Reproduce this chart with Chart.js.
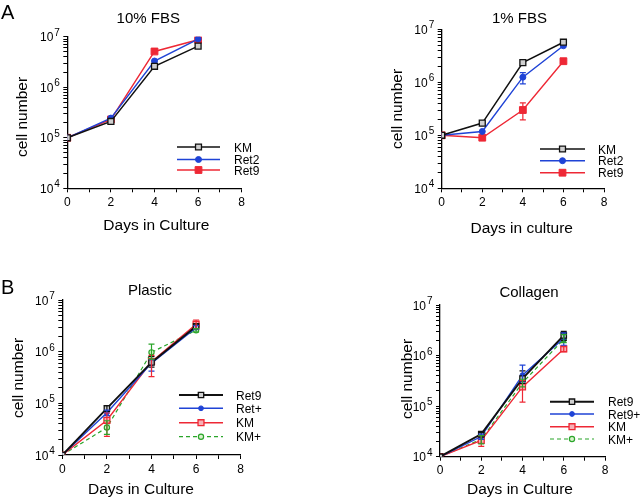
<!DOCTYPE html>
<html>
<head>
<meta charset="utf-8">
<script src="https://cdn.jsdelivr.net/npm/chart.js@4.4.1/dist/chart.umd.min.js"></script>
<style>
  html, body { margin: 0; padding: 0; background: #fff; }
  #wrap { position: relative; width: 640px; height: 499px; overflow: hidden; background: #fff; }
  #wrap canvas { position: absolute; left: 0; top: 0; }
</style>
</head>
<body>
<div id="wrap">
  <canvas id="chart-a10" width="640" height="499"></canvas>
  <canvas id="chart-a1" width="640" height="499"></canvas>
  <canvas id="chart-bp" width="640" height="499"></canvas>
  <canvas id="chart-bc" width="640" height="499"></canvas>
</div>
<script>
// ── Axes ──────────────────────────────────────────────────────────────────────
const DAYS      = [0, 2, 4, 6];
const X_TICKS   = [0, 1, 2, 3, 4, 5, 6, 7, 8];
const X_LABELS  = ['0', '', '2', '', '4', '', '6', '', '8'];
const Y_DECADES = [1e4, 1e5, 1e6, 1e7];
const Y_EXPS    = ['4', '5', '6', '7'];
const Y_MINOR   = [2e4, 3e4, 4e4, 5e4, 6e4, 7e4, 8e4, 9e4,
                   2e5, 3e5, 4e5, 5e5, 6e5, 7e5, 8e5, 9e5,
                   2e6, 3e6, 4e6, 5e6, 6e6, 7e6, 8e6, 9e6];

// ── A : 10% FBS ───────────────────────────────────────────────────────────────
const A10_KM   = [1e5, 2.1e5, 2.6e6, 6.5e6];
const A10_RET2 = [1e5, 2.45e5, 3.3e6, 9.0e6];
const A10_RET9 = [1e5, 2.3e5, 5.1e6, 8.7e6];

// ── A : 1% FBS ────────────────────────────────────────────────────────────────
const A1_KM       = [1e5, 1.7e5, 2.35e6, 5.7e6];
const A1_RET2     = [1e5, 1.18e5, 1.25e6, 4.9e6];
const A1_RET2_ERR = [null, null, [0.93e6, 1.52e6], null];
const A1_RET9     = [1e5, 0.9e5, 3.0e5, 2.5e6];
const A1_RET9_ERR = [null, null, [1.95e5, 4.1e5], null];

// ── B : Plastic ───────────────────────────────────────────────────────────────
const BP_RET9     = [1e4, 8.0e4, 6.2e5, 3.1e6];
const BP_RET9_ERR = [null, [7.0e4, 9.0e4], [5.0e5, 8.0e5], [2.8e6, 3.4e6]];
const BP_RETP     = [1e4, 6.6e4, 6.0e5, 2.9e6];
const BP_RETP_ERR = [null, [5.8e4, 7.4e4], [4.2e5, 7.0e5], [2.7e6, 3.2e6]];
const BP_KM       = [1e4, 4.7e4, 6.4e5, 3.4e6];
const BP_KM_ERR   = [null, [2.3e4, 6.5e4], [3.3e5, 8.5e5], [2.8e6, 4.1e6]];
const BP_KMP      = [1e4, 3.4e4, 9.7e5, 2.6e6];
const BP_KMP_ERR  = [null, [2.5e4, 4.6e4], [7.2e5, 1.4e6], [2.4e6, 2.8e6]];

// ── B : Collagen ──────────────────────────────────────────────────────────────
const BC_RET9      = [1e4, 2.8e4, 3.5e5, 2.5e6];
const BC_RET9_ERR  = [null, [2.5e4, 3.0e4], [2.8e5, 5.0e5], [2.0e6, 3.0e6]];
const BC_RET9P     = [1e4, 2.5e4, 4.1e5, 2.2e6];
const BC_RET9P_ERR = [null, [2.2e4, 2.8e4], [3.0e5, 6.5e5], [1.6e6, 2.8e6]];
const BC_KM        = [1e4, 2.1e4, 2.4e5, 1.35e6];
const BC_KM_ERR    = [null, [1.6e4, 2.6e4], [1.2e5, 3.2e5], [1.2e6, 1.5e6]];
const BC_KMP       = [1e4, 2.2e4, 2.9e5, 2.1e6];
const BC_KMP_ERR   = [null, [1.8e4, 2.6e4], [2.4e5, 3.4e5], [1.8e6, 2.6e6]];

// ── Styles ────────────────────────────────────────────────────────────────────
const FONT = "'Liberation Sans', Arial, Helvetica, sans-serif";
const W = 640, H = 499;
const Y_AXIS_W = 6;    // largeur réservée à l'axe y (ticks seuls)
const X_AXIS_H = 30;   // hauteur réservée à l'axe x (ticks + chiffres)

const STYLE = {
  blackOpen:  { color: '#111',    width: 1.5, point: 'rect',   radius: 4.2, fill: '#cfcfcf', pb: 1.3 },
  blackOpenB: { color: '#111',    width: 1.9, point: 'rect',   radius: 3.8, fill: '#cfcfcf', pb: 1.3 },
  blueDot:    { color: '#1f43d6', width: 1.4, point: 'circle', radius: 3,   fill: '#1f43d6', pb: 1 },
  blueDotB:   { color: '#1f43d6', width: 1.4, point: 'circle', radius: 2.4, fill: '#1f43d6', pb: 1 },
  redSquare:  { color: '#ee2835', width: 1.4, point: 'rect',   radius: 4.8, fill: '#ee2835', pb: 1 },
  redOpen:    { color: '#ee2835', width: 1.4, point: 'rect',   radius: 4.2, fill: '#f7b0b5', pb: 1.3 },
  greenOpen:  { color: '#2aa52a', width: 1.2, point: 'circle', radius: 2.6, fill: '#d9f2cc', pb: 1.2, dash: [4, 3] },
};

function seriesStyle(st) {
  return {
    borderColor: st.color, borderWidth: st.width, borderDash: st.dash || [],
    pointStyle: st.point, pointRadius: st.radius, pointBackgroundColor: st.fill,
    pointBorderColor: st.color, pointBorderWidth: st.pb, fill: false, tension: 0,
  };
}

const txt = (size) => `${size}px ${FONT}`;

// ── Barres d'erreur ───────────────────────────────────────────────────────────
const errorBars = {
  id: 'errorBars',
  afterDatasetsDraw(chart) {
    const { ctx, scales: { x, y } } = chart;
    chart.data.datasets.forEach(ds => {
      if (!ds.err) return;
      ctx.save();
      ctx.strokeStyle = ds.borderColor;
      ctx.lineWidth = 1.2;
      ctx.setLineDash([]);
      ds.err.forEach((e, i) => {
        if (!e) return;
        const px = x.getPixelForValue(DAYS[i]);
        const lo = y.getPixelForValue(e[0]);
        const hi = y.getPixelForValue(e[1]);
        ctx.beginPath();
        ctx.moveTo(px, lo); ctx.lineTo(px, hi);
        ctx.moveTo(px - 3, lo); ctx.lineTo(px + 3, lo);
        ctx.moveTo(px - 3, hi); ctx.lineTo(px + 3, hi);
        ctx.stroke();
      });
      ctx.restore();
    });
  },
};

// ── Textes, ticks 10^n et légende interne ─────────────────────────────────────
function decor(p) {
  return {
    id: 'decor',
    afterDraw(chart) {
      const { ctx, scales: { y } } = chart;
      ctx.save();
      ctx.fillStyle = '#000';
      ctx.textBaseline = 'alphabetic';

      // titre + lettre du panneau
      ctx.font = txt(15);
      ctx.textAlign = 'center';
      ctx.fillText(p.title.text, p.title.x, p.title.y);
      if (p.letter) {
        ctx.font = txt(20);
        ctx.textAlign = 'left';
        ctx.fillText(p.letter.text, p.letter.x, p.letter.y);
      }

      // titres d'axes
      ctx.font = txt(15.5);
      ctx.textAlign = 'center';
      ctx.fillText(p.xTitle.text, p.xTitle.x, p.xTitle.y);
      ctx.save();
      ctx.translate(p.yTitle.x, p.yTitle.y);
      ctx.rotate(-Math.PI / 2);
      ctx.fillText(p.yTitle.text, 0, 0);
      ctx.restore();

      // ticks log : 10 + exposant
      Y_DECADES.forEach((v, i) => {
        const py = y.getPixelForValue(v);
        ctx.font = txt(12);
        ctx.textAlign = 'right';
        ctx.fillText('10', p.box.L - 14, py + 4.5);
        ctx.font = txt(10);
        ctx.textAlign = 'left';
        ctx.fillText(Y_EXPS[i], p.box.L - 13, py - 1);
      });

      // légende
      const lg = p.legend;
      chart.data.datasets.forEach((ds, i) => {
        const yy = lg.rows[i];
        ctx.save();
        ctx.strokeStyle = ds.borderColor;
        ctx.lineWidth = ds.borderWidth;
        ctx.setLineDash(ds.borderDash || []);
        ctx.beginPath(); ctx.moveTo(lg.x1, yy); ctx.lineTo(lg.x2, yy); ctx.stroke();
        ctx.setLineDash([]);
        ctx.fillStyle = ds.pointBackgroundColor;
        ctx.lineWidth = ds.pointBorderWidth;
        Chart.helpers.drawPoint(ctx, {
          pointStyle: ds.pointStyle, radius: ds.pointRadius, rotation: 0, borderWidth: ds.pointBorderWidth,
        }, (lg.x1 + lg.x2) / 2, yy);
        ctx.fillStyle = '#000';
        ctx.font = txt(12);
        ctx.textAlign = 'left';
        ctx.fillText(ds.label, lg.tx, yy + 4.5);
        ctx.restore();
      });
      ctx.restore();
    },
  };
}

// ── Construction d'un panneau ─────────────────────────────────────────────────
function makePanel(p) {
  const axisCommon = {
    grid: { display: true, drawOnChartArea: false, drawTicks: true, tickLength: 4, color: '#000', lineWidth: 1 },
    border: { display: true, color: '#000', width: 1.3 },
  };
  return new Chart(document.getElementById(p.id), {
    type: 'line',
    data: {
      datasets: p.series.map(s => ({
        label: s.label,
        data: DAYS.map((d, i) => ({ x: d, y: s.values[i] })),
        err: s.err || null,
        ...seriesStyle(s.style),
      })),
    },
    options: {
      responsive: false,
      animation: false,
      events: [],
      layout: {
        padding: { left: p.box.L - Y_AXIS_W, top: p.box.T, right: W - p.box.R, bottom: H - p.box.B - X_AXIS_H },
      },
      scales: {
        x: {
          type: 'linear', min: 0, max: 8,
          afterBuildTicks: s => { s.ticks = X_TICKS.map(v => ({ value: v })); },
          afterFit: s => { s.height = X_AXIS_H; s.paddingLeft = 0; s.paddingRight = 0; },
          ticks: {
            autoSkip: false, maxRotation: 0, padding: 3, color: '#000',
            font: { family: FONT, size: 12 },
            callback: (v, i) => X_LABELS[i],
          },
          ...axisCommon,
        },
        y: {
          type: 'logarithmic', min: 1e4, max: 1e7,
          afterBuildTicks: s => {
            s.ticks = [...Y_DECADES, ...Y_MINOR].sort((a, b) => a - b).map(v => ({ value: v }));
          },
          afterFit: s => { s.width = Y_AXIS_W; s.paddingTop = 0; s.paddingBottom = 0; },
          ticks: { display: false },
          ...axisCommon,
        },
      },
      plugins: { legend: { display: false }, tooltip: { enabled: false } },
    },
    plugins: [errorBars, decor(p)],
  });
}

makePanel({
  id: 'chart-a10',
  box: { L: 67.3, T: 36.7, R: 241.7, B: 188.3 },
  title: { text: '10% FBS', x: 148.3, y: 22.7 },
  letter: { text: 'A', x: 1, y: 19 },
  xTitle: { text: 'Days in Culture', x: 156.3, y: 230 },
  yTitle: { text: 'cell number', x: 26.5, y: 117 },
  legend: { x1: 177, x2: 220, tx: 234, rows: [147, 159.5, 170] },
  series: [
    { label: 'KM',   values: A10_KM,   style: STYLE.blackOpen },
    { label: 'Ret2', values: A10_RET2, style: STYLE.blueDot },
    { label: 'Ret9', values: A10_RET9, style: STYLE.redSquare },
  ],
});

makePanel({
  id: 'chart-a1',
  box: { L: 441.7, T: 29.3, R: 604, B: 188.3 },
  title: { text: '1% FBS', x: 519.5, y: 22.7 },
  letter: null,
  xTitle: { text: 'Days in culture', x: 521.7, y: 233 },
  yTitle: { text: 'cell number', x: 401.5, y: 109 },
  legend: { x1: 540, x2: 585, tx: 598, rows: [149, 160.7, 172.7] },
  series: [
    { label: 'KM',   values: A1_KM,   style: STYLE.blackOpen },
    { label: 'Ret2', values: A1_RET2, err: A1_RET2_ERR, style: STYLE.blueDot },
    { label: 'Ret9', values: A1_RET9, err: A1_RET9_ERR, style: STYLE.redSquare },
  ],
});

makePanel({
  id: 'chart-bp',
  box: { L: 62.3, T: 300, R: 240.7, B: 455 },
  title: { text: 'Plastic', x: 150, y: 295 },
  letter: { text: 'B', x: 1, y: 294 },
  xTitle: { text: 'Days in Culture', x: 141, y: 494 },
  yTitle: { text: 'cell number', x: 23.3, y: 378 },
  legend: { x1: 179, x2: 223, tx: 236, rows: [395, 408.3, 422.7, 436.7] },
  series: [
    { label: 'Ret9', values: BP_RET9, err: BP_RET9_ERR, style: STYLE.blackOpenB },
    { label: 'Ret+', values: BP_RETP, err: BP_RETP_ERR, style: STYLE.blueDotB },
    { label: 'KM',   values: BP_KM,   err: BP_KM_ERR,   style: STYLE.redOpen },
    { label: 'KM+',  values: BP_KMP,  err: BP_KMP_ERR,  style: STYLE.greenOpen },
  ],
});

makePanel({
  id: 'chart-bc',
  box: { L: 440, T: 305, R: 605, B: 456.7 },
  title: { text: 'Collagen', x: 529, y: 297 },
  letter: null,
  xTitle: { text: 'Days in Culture', x: 520, y: 494 },
  yTitle: { text: 'cell number', x: 411.5, y: 379 },
  legend: { x1: 550, x2: 594, tx: 608, rows: [401.7, 414, 426.7, 439] },
  series: [
    { label: 'Ret9',  values: BC_RET9,  err: BC_RET9_ERR,  style: STYLE.blackOpenB },
    { label: 'Ret9+', values: BC_RET9P, err: BC_RET9P_ERR, style: STYLE.blueDotB },
    { label: 'KM',    values: BC_KM,    err: BC_KM_ERR,    style: STYLE.redOpen },
    { label: 'KM+',   values: BC_KMP,   err: BC_KMP_ERR,   style: STYLE.greenOpen },
  ],
});
</script>
</body>
</html>
